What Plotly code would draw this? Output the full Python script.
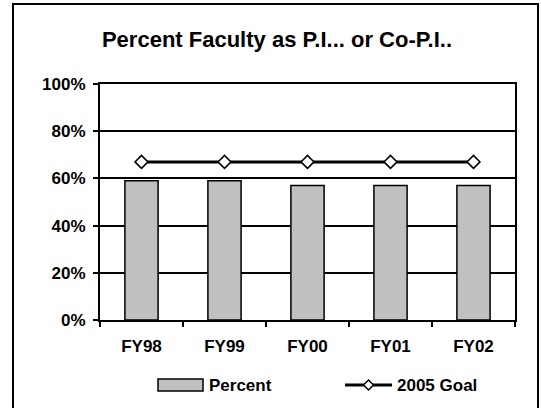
import plotly.graph_objects as go

categories = ["FY98", "FY99", "FY00", "FY01", "FY02"]
percent_values = [59, 59, 57, 57, 57]
goal_values = [67, 67, 67, 67, 67]
y_tick_vals = [0, 20, 40, 60, 80, 100]
y_tick_text = ["0%", "20%", "40%", "60%", "80%", "100%"]

W, H = 541, 408
L, R, T, B = 100, 515, 84, 320  # plot area in pixels


def px(x):
    return (x - L) / (R - L)


def py(y):
    return (B - y) / (B - T)


FONT = "Arial, 'Liberation Sans', sans-serif"

fig = go.Figure()
fig.add_trace(go.Bar(
    x=categories, y=percent_values, name="Percent",
    marker=dict(color="#C0C0C0", line=dict(color="black", width=1.5)),
    showlegend=False,
))
fig.add_trace(go.Scatter(
    x=categories, y=goal_values, name="2005 Goal", mode="lines+markers",
    line=dict(color="black", width=3),
    marker=dict(symbol="diamond", size=10, color="white",
                line=dict(color="black", width=1.5)),
    showlegend=False,
))

shapes = [
    # outer chart border
    dict(type="rect", xref="paper", yref="paper",
         x0=px(13), x1=px(538), y0=py(410), y1=py(4),
         line=dict(color="black", width=2), fillcolor="rgba(0,0,0,0)"),
    # legend swatch for bars
    dict(type="rect", xref="paper", yref="paper",
         x0=px(158), x1=px(203), y0=py(391), y1=py(379),
         line=dict(color="black", width=1.5), fillcolor="#C0C0C0"),
    # legend line for goal
    dict(type="line", xref="paper", yref="paper",
         x0=px(345), x1=px(392), y0=py(385), y1=py(385),
         line=dict(color="black", width=3)),
]
cx, cy, d = 368.5, 385, 5
shapes.append(dict(
    type="path", xref="paper", yref="paper",
    path=(f"M {px(cx-d)},{py(cy)} L {px(cx)},{py(cy-d)} "
          f"L {px(cx+d)},{py(cy)} L {px(cx)},{py(cy+d)} Z"),
    fillcolor="white", line=dict(color="black", width=1.5)))

annotations = [
    dict(text="Percent", xref="paper", yref="paper", x=px(207), y=py(385),
         xanchor="left", yanchor="middle", showarrow=False,
         font=dict(family=FONT, size=17, color="black", weight="bold")),
    dict(text="2005 Goal", xref="paper", yref="paper", x=px(395), y=py(385),
         xanchor="left", yanchor="middle", showarrow=False,
         font=dict(family=FONT, size=17, color="black", weight="bold")),
]

fig.update_layout(
    width=W, height=H,
    margin=dict(l=L, r=W - R, t=T, b=H - B, pad=0),
    paper_bgcolor="white", plot_bgcolor="white",
    bargap=0.6,
    title=dict(text="Percent Faculty as P.I... or Co-P.I..",
               xref="container", yref="container",
               x=277 / W, y=1 - 39 / H, xanchor="center", yanchor="middle",
               font=dict(family=FONT, size=22, color="black", weight="bold")),
    shapes=shapes,
    annotations=annotations,
    showlegend=False,
    font=dict(family=FONT, color="black"),
)
fig.update_xaxes(
    type="category", showline=True, linecolor="black", linewidth=2,
    mirror=True, ticks="outside", ticklen=5, tickcolor="black", tickwidth=1.5,
    tickson="boundaries", showgrid=False, ticklabelstandoff=10,
    tickfont=dict(family=FONT, size=17, color="black", weight="bold"),
)
fig.update_yaxes(
    range=[0, 100], tickvals=y_tick_vals, ticktext=y_tick_text,
    showline=True, linecolor="black", linewidth=2, mirror=True,
    ticks="outside", ticklen=5, tickcolor="black", tickwidth=1.5,
    showgrid=True, gridcolor="black", gridwidth=1.5, zeroline=False,
    ticklabelstandoff=4,
    tickfont=dict(family=FONT, size=17, color="black", weight="bold"),
)

fig.write_html("out.html", config=dict(displayModeBar=False))

# remove the default page margin so the figure sits at the window origin
with open("out.html", "r", encoding="utf-8") as f:
    html = f.read()
html = html.replace("<head>", "<head><style>html,body{margin:0;padding:0;overflow:hidden;}</style>", 1)
with open("out.html", "w", encoding="utf-8") as f:
    f.write(html)
